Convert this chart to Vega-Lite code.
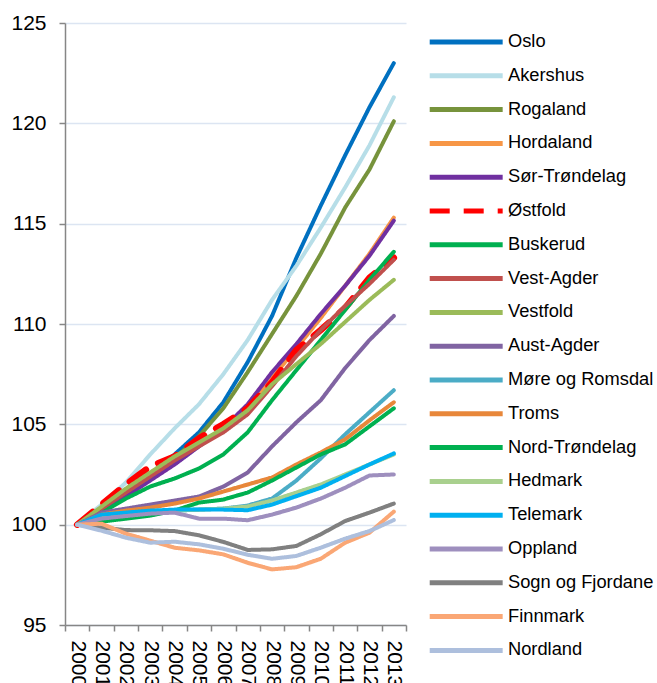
{
"$schema": "https://vega.github.io/schema/vega-lite/v6.json",
"width": 341, "height": 602,
"autosize": {"type": "none"},
"padding": {"left": 65, "top": 23, "right": 251, "bottom": 58},
"background": "white",
"config": {"view": {"stroke": null}, "font": "Liberation Sans"},
"datasets": {"d": [
{"region":"Oslo","year":2000,"value":100},{"region":"Oslo","year":2001,"value":100.6},{"region":"Oslo","year":2002,"value":101.5},{"region":"Oslo","year":2003,"value":102.5},{"region":"Oslo","year":2004,"value":103.5},{"region":"Oslo","year":2005,"value":104.6},{"region":"Oslo","year":2006,"value":106.1},{"region":"Oslo","year":2007,"value":108.1},{"region":"Oslo","year":2008,"value":110.4},{"region":"Oslo","year":2009,"value":113.3},{"region":"Oslo","year":2010,"value":115.9},{"region":"Oslo","year":2011,"value":118.4},{"region":"Oslo","year":2012,"value":120.8},{"region":"Oslo","year":2013,"value":123.0},
{"region":"Akershus","year":2000,"value":100},{"region":"Akershus","year":2001,"value":101.0},{"region":"Akershus","year":2002,"value":102.1},{"region":"Akershus","year":2003,"value":103.5},{"region":"Akershus","year":2004,"value":104.8},{"region":"Akershus","year":2005,"value":106.0},{"region":"Akershus","year":2006,"value":107.5},{"region":"Akershus","year":2007,"value":109.2},{"region":"Akershus","year":2008,"value":111.2},{"region":"Akershus","year":2009,"value":112.9},{"region":"Akershus","year":2010,"value":114.8},{"region":"Akershus","year":2011,"value":116.8},{"region":"Akershus","year":2012,"value":118.9},{"region":"Akershus","year":2013,"value":121.3},
{"region":"Rogaland","year":2000,"value":100},{"region":"Rogaland","year":2001,"value":100.8},{"region":"Rogaland","year":2002,"value":101.6},{"region":"Rogaland","year":2003,"value":102.5},{"region":"Rogaland","year":2004,"value":103.3},{"region":"Rogaland","year":2005,"value":104.4},{"region":"Rogaland","year":2006,"value":105.8},{"region":"Rogaland","year":2007,"value":107.6},{"region":"Rogaland","year":2008,"value":109.5},{"region":"Rogaland","year":2009,"value":111.4},{"region":"Rogaland","year":2010,"value":113.5},{"region":"Rogaland","year":2011,"value":115.8},{"region":"Rogaland","year":2012,"value":117.7},{"region":"Rogaland","year":2013,"value":120.1},
{"region":"Hordaland","year":2000,"value":100},{"region":"Hordaland","year":2001,"value":100.8},{"region":"Hordaland","year":2002,"value":101.6},{"region":"Hordaland","year":2003,"value":102.4},{"region":"Hordaland","year":2004,"value":103.2},{"region":"Hordaland","year":2005,"value":104.0},{"region":"Hordaland","year":2006,"value":104.8},{"region":"Hordaland","year":2007,"value":105.8},{"region":"Hordaland","year":2008,"value":107.3},{"region":"Hordaland","year":2009,"value":108.8},{"region":"Hordaland","year":2010,"value":110.3},{"region":"Hordaland","year":2011,"value":111.9},{"region":"Hordaland","year":2012,"value":113.5},{"region":"Hordaland","year":2013,"value":115.3},
{"region":"Sør-Trøndelag","year":2000,"value":100},{"region":"Sør-Trøndelag","year":2001,"value":100.7},{"region":"Sør-Trøndelag","year":2002,"value":101.4},{"region":"Sør-Trøndelag","year":2003,"value":102.2},{"region":"Sør-Trøndelag","year":2004,"value":103.0},{"region":"Sør-Trøndelag","year":2005,"value":103.9},{"region":"Sør-Trøndelag","year":2006,"value":104.8},{"region":"Sør-Trøndelag","year":2007,"value":106.0},{"region":"Sør-Trøndelag","year":2008,"value":107.6},{"region":"Sør-Trøndelag","year":2009,"value":109.0},{"region":"Sør-Trøndelag","year":2010,"value":110.5},{"region":"Sør-Trøndelag","year":2011,"value":111.9},{"region":"Sør-Trøndelag","year":2012,"value":113.4},{"region":"Sør-Trøndelag","year":2013,"value":115.15},
{"region":"Østfold","year":2000,"value":100},{"region":"Østfold","year":2001,"value":101.0},{"region":"Østfold","year":2002,"value":102.0},{"region":"Østfold","year":2003,"value":102.9},{"region":"Østfold","year":2004,"value":103.4},{"region":"Østfold","year":2005,"value":104.3},{"region":"Østfold","year":2006,"value":105.0},{"region":"Østfold","year":2007,"value":105.8},{"region":"Østfold","year":2008,"value":107.1},{"region":"Østfold","year":2009,"value":108.7},{"region":"Østfold","year":2010,"value":109.7},{"region":"Østfold","year":2011,"value":110.8},{"region":"Østfold","year":2012,"value":112.3},{"region":"Østfold","year":2013,"value":113.3},
{"region":"Buskerud","year":2000,"value":100},{"region":"Buskerud","year":2001,"value":100.6},{"region":"Buskerud","year":2002,"value":101.3},{"region":"Buskerud","year":2003,"value":101.9},{"region":"Buskerud","year":2004,"value":102.3},{"region":"Buskerud","year":2005,"value":102.8},{"region":"Buskerud","year":2006,"value":103.5},{"region":"Buskerud","year":2007,"value":104.6},{"region":"Buskerud","year":2008,"value":106.2},{"region":"Buskerud","year":2009,"value":107.7},{"region":"Buskerud","year":2010,"value":109.2},{"region":"Buskerud","year":2011,"value":110.7},{"region":"Buskerud","year":2012,"value":112.2},{"region":"Buskerud","year":2013,"value":113.6},
{"region":"Vest-Agder","year":2000,"value":100},{"region":"Vest-Agder","year":2001,"value":100.8},{"region":"Vest-Agder","year":2002,"value":101.6},{"region":"Vest-Agder","year":2003,"value":102.4},{"region":"Vest-Agder","year":2004,"value":103.2},{"region":"Vest-Agder","year":2005,"value":103.9},{"region":"Vest-Agder","year":2006,"value":104.6},{"region":"Vest-Agder","year":2007,"value":105.5},{"region":"Vest-Agder","year":2008,"value":106.9},{"region":"Vest-Agder","year":2009,"value":108.4},{"region":"Vest-Agder","year":2010,"value":109.7},{"region":"Vest-Agder","year":2011,"value":110.9},{"region":"Vest-Agder","year":2012,"value":112.0},{"region":"Vest-Agder","year":2013,"value":113.2},
{"region":"Vestfold","year":2000,"value":100},{"region":"Vestfold","year":2001,"value":100.9},{"region":"Vestfold","year":2002,"value":101.8},{"region":"Vestfold","year":2003,"value":102.6},{"region":"Vestfold","year":2004,"value":103.4},{"region":"Vestfold","year":2005,"value":104.1},{"region":"Vestfold","year":2006,"value":104.8},{"region":"Vestfold","year":2007,"value":105.7},{"region":"Vestfold","year":2008,"value":107.0},{"region":"Vestfold","year":2009,"value":108.0},{"region":"Vestfold","year":2010,"value":109.0},{"region":"Vestfold","year":2011,"value":110.1},{"region":"Vestfold","year":2012,"value":111.2},{"region":"Vestfold","year":2013,"value":112.2},
{"region":"Aust-Agder","year":2000,"value":100},{"region":"Aust-Agder","year":2001,"value":100.6},{"region":"Aust-Agder","year":2002,"value":100.8},{"region":"Aust-Agder","year":2003,"value":101.0},{"region":"Aust-Agder","year":2004,"value":101.2},{"region":"Aust-Agder","year":2005,"value":101.4},{"region":"Aust-Agder","year":2006,"value":101.9},{"region":"Aust-Agder","year":2007,"value":102.6},{"region":"Aust-Agder","year":2008,"value":103.9},{"region":"Aust-Agder","year":2009,"value":105.1},{"region":"Aust-Agder","year":2010,"value":106.2},{"region":"Aust-Agder","year":2011,"value":107.8},{"region":"Aust-Agder","year":2012,"value":109.2},{"region":"Aust-Agder","year":2013,"value":110.4},
{"region":"Møre og Romsdal","year":2000,"value":100},{"region":"Møre og Romsdal","year":2001,"value":100.45},{"region":"Møre og Romsdal","year":2002,"value":100.5},{"region":"Møre og Romsdal","year":2003,"value":100.6},{"region":"Møre og Romsdal","year":2004,"value":100.7},{"region":"Møre og Romsdal","year":2005,"value":100.75},{"region":"Møre og Romsdal","year":2006,"value":100.8},{"region":"Møre og Romsdal","year":2007,"value":100.95},{"region":"Møre og Romsdal","year":2008,"value":101.3},{"region":"Møre og Romsdal","year":2009,"value":102.2},{"region":"Møre og Romsdal","year":2010,"value":103.3},{"region":"Møre og Romsdal","year":2011,"value":104.5},{"region":"Møre og Romsdal","year":2012,"value":105.6},{"region":"Møre og Romsdal","year":2013,"value":106.7},
{"region":"Troms","year":2000,"value":100},{"region":"Troms","year":2001,"value":100.5},{"region":"Troms","year":2002,"value":100.7},{"region":"Troms","year":2003,"value":100.85},{"region":"Troms","year":2004,"value":101.05},{"region":"Troms","year":2005,"value":101.3},{"region":"Troms","year":2006,"value":101.65},{"region":"Troms","year":2007,"value":102.0},{"region":"Troms","year":2008,"value":102.35},{"region":"Troms","year":2009,"value":103.0},{"region":"Troms","year":2010,"value":103.6},{"region":"Troms","year":2011,"value":104.25},{"region":"Troms","year":2012,"value":105.2},{"region":"Troms","year":2013,"value":106.1},
{"region":"Nord-Trøndelag","year":2000,"value":100},{"region":"Nord-Trøndelag","year":2001,"value":100.15},{"region":"Nord-Trøndelag","year":2002,"value":100.3},{"region":"Nord-Trøndelag","year":2003,"value":100.45},{"region":"Nord-Trøndelag","year":2004,"value":100.7},{"region":"Nord-Trøndelag","year":2005,"value":101.1},{"region":"Nord-Trøndelag","year":2006,"value":101.25},{"region":"Nord-Trøndelag","year":2007,"value":101.6},{"region":"Nord-Trøndelag","year":2008,"value":102.2},{"region":"Nord-Trøndelag","year":2009,"value":102.85},{"region":"Nord-Trøndelag","year":2010,"value":103.5},{"region":"Nord-Trøndelag","year":2011,"value":104.0},{"region":"Nord-Trøndelag","year":2012,"value":104.9},{"region":"Nord-Trøndelag","year":2013,"value":105.8},
{"region":"Hedmark","year":2000,"value":100},{"region":"Hedmark","year":2001,"value":100.4},{"region":"Hedmark","year":2002,"value":100.5},{"region":"Hedmark","year":2003,"value":100.6},{"region":"Hedmark","year":2004,"value":100.7},{"region":"Hedmark","year":2005,"value":100.75},{"region":"Hedmark","year":2006,"value":100.8},{"region":"Hedmark","year":2007,"value":100.9},{"region":"Hedmark","year":2008,"value":101.2},{"region":"Hedmark","year":2009,"value":101.6},{"region":"Hedmark","year":2010,"value":102.0},{"region":"Hedmark","year":2011,"value":102.5},{"region":"Hedmark","year":2012,"value":103.0},{"region":"Hedmark","year":2013,"value":103.5},
{"region":"Telemark","year":2000,"value":100},{"region":"Telemark","year":2001,"value":100.5},{"region":"Telemark","year":2002,"value":100.6},{"region":"Telemark","year":2003,"value":100.7},{"region":"Telemark","year":2004,"value":100.75},{"region":"Telemark","year":2005,"value":100.75},{"region":"Telemark","year":2006,"value":100.75},{"region":"Telemark","year":2007,"value":100.72},{"region":"Telemark","year":2008,"value":101.0},{"region":"Telemark","year":2009,"value":101.42},{"region":"Telemark","year":2010,"value":101.84},{"region":"Telemark","year":2011,"value":102.42},{"region":"Telemark","year":2012,"value":103.0},{"region":"Telemark","year":2013,"value":103.55},
{"region":"Oppland","year":2000,"value":100},{"region":"Oppland","year":2001,"value":100.3},{"region":"Oppland","year":2002,"value":100.43},{"region":"Oppland","year":2003,"value":100.55},{"region":"Oppland","year":2004,"value":100.6},{"region":"Oppland","year":2005,"value":100.3},{"region":"Oppland","year":2006,"value":100.3},{"region":"Oppland","year":2007,"value":100.22},{"region":"Oppland","year":2008,"value":100.5},{"region":"Oppland","year":2009,"value":100.85},{"region":"Oppland","year":2010,"value":101.3},{"region":"Oppland","year":2011,"value":101.84},{"region":"Oppland","year":2012,"value":102.45},{"region":"Oppland","year":2013,"value":102.5},
{"region":"Sogn og Fjordane","year":2000,"value":100},{"region":"Sogn og Fjordane","year":2001,"value":99.85},{"region":"Sogn og Fjordane","year":2002,"value":99.73},{"region":"Sogn og Fjordane","year":2003,"value":99.72},{"region":"Sogn og Fjordane","year":2004,"value":99.68},{"region":"Sogn og Fjordane","year":2005,"value":99.47},{"region":"Sogn og Fjordane","year":2006,"value":99.14},{"region":"Sogn og Fjordane","year":2007,"value":98.74},{"region":"Sogn og Fjordane","year":2008,"value":98.77},{"region":"Sogn og Fjordane","year":2009,"value":98.94},{"region":"Sogn og Fjordane","year":2010,"value":99.52},{"region":"Sogn og Fjordane","year":2011,"value":100.18},{"region":"Sogn og Fjordane","year":2012,"value":100.6},{"region":"Sogn og Fjordane","year":2013,"value":101.05},
{"region":"Finnmark","year":2000,"value":100},{"region":"Finnmark","year":2001,"value":100.05},{"region":"Finnmark","year":2002,"value":99.55},{"region":"Finnmark","year":2003,"value":99.2},{"region":"Finnmark","year":2004,"value":98.85},{"region":"Finnmark","year":2005,"value":98.72},{"region":"Finnmark","year":2006,"value":98.52},{"region":"Finnmark","year":2007,"value":98.1},{"region":"Finnmark","year":2008,"value":97.77},{"region":"Finnmark","year":2009,"value":97.88},{"region":"Finnmark","year":2010,"value":98.3},{"region":"Finnmark","year":2011,"value":99.1},{"region":"Finnmark","year":2012,"value":99.6},{"region":"Finnmark","year":2013,"value":100.65},
{"region":"Nordland","year":2000,"value":100},{"region":"Nordland","year":2001,"value":99.7},{"region":"Nordland","year":2002,"value":99.35},{"region":"Nordland","year":2003,"value":99.1},{"region":"Nordland","year":2004,"value":99.15},{"region":"Nordland","year":2005,"value":99.02},{"region":"Nordland","year":2006,"value":98.8},{"region":"Nordland","year":2007,"value":98.5},{"region":"Nordland","year":2008,"value":98.3},{"region":"Nordland","year":2009,"value":98.44},{"region":"Nordland","year":2010,"value":98.85},{"region":"Nordland","year":2011,"value":99.3},{"region":"Nordland","year":2012,"value":99.68},{"region":"Nordland","year":2013,"value":100.23}
]},
"data": {"name": "d"},
"mark": {"type": "line", "strokeCap": "round", "strokeJoin": "round"},
"encoding": {
  "x": {"field": "year", "type": "ordinal", "bandPosition": 0.5,
        "scale": {"type": "band", "paddingInner": 0, "paddingOuter": 0},
        "axis": {"title": null, "labelAngle": 90, "labelAlign": "left", "labelBaseline": "middle", "labelFontSize": 21, "labelColor": "black", "labelFont": "Liberation Sans", "labelPadding": 9, "labelOverlap": false, "tickBand": "extent", "tickSize": 6, "tickColor": "#868686", "tickWidth": 1.5, "domainColor": "#868686", "domainWidth": 1.5, "grid": false}},
  "y": {"field": "value", "type": "quantitative",
        "scale": {"domain": [95, 125], "nice": false, "zero": false},
        "axis": {"title": null, "values": [95, 100, 105, 110, 115, 120, 125], "grid": true, "gridColor": "#DCE5F2", "gridWidth": 1.5, "domainColor": "#868686", "domainWidth": 1.5, "tickColor": "#868686", "tickSize": 6, "tickWidth": 1.5, "labelFontSize": 21, "labelColor": "black", "labelFont": "Liberation Sans", "labelPadding": 13}},
  "color": {"field": "region", "type": "nominal",
        "scale": {"domain": ["Oslo","Akershus","Rogaland","Hordaland","Sør-Trøndelag","Østfold","Buskerud","Vest-Agder","Vestfold","Aust-Agder","Møre og Romsdal","Troms","Nord-Trøndelag","Hedmark","Telemark","Oppland","Sogn og Fjordane","Finnmark","Nordland"],
                  "range": ["#0070C0","#B7DEE8","#77933C","#F79646","#7030A0","#FF0000","#00B050","#C0504D","#9BBB59","#8064A2","#4BACC6","#E8873A","#00B050","#A9D08E","#00B0F0","#9E8FBE","#808080","#FAA775","#ADBFDD"]},
        "legend": {"title": null, "orient": "none", "legendX": 362, "legendY": 9, "padding": 0, "symbolType": "M-1,0H9", "symbolSize": 213, "symbolStrokeWidth": 5, "symbolOffset": 0, "labelOffset": 61, "labelFontSize": 18.3, "labelFont": "Liberation Sans", "labelColor": "black", "labelLimit": 300, "rowPadding": 13.8, "direction": "vertical"}},
  "strokeDash": {"field": "region", "type": "nominal",
        "scale": {"domain": ["Oslo","Akershus","Rogaland","Hordaland","Sør-Trøndelag","Østfold","Buskerud","Vest-Agder","Vestfold","Aust-Agder","Møre og Romsdal","Troms","Nord-Trøndelag","Hedmark","Telemark","Oppland","Sogn og Fjordane","Finnmark","Nordland"],
                  "range": [[1,0],[1,0],[1,0],[1,0],[1,0],[20,14],[1,0],[1,0],[1,0],[1,0],[1,0],[1,0],[1,0],[1,0],[1,0],[1,0],[1,0],[1,0],[1,0]]},
        "legend": {"title": null, "orient": "none", "legendX": 362, "legendY": 9, "padding": 0, "symbolType": "M-1,0H9", "symbolSize": 213, "symbolStrokeWidth": 5, "symbolOffset": 0, "labelOffset": 61, "labelFontSize": 18.3, "labelFont": "Liberation Sans", "labelColor": "black", "labelLimit": 300, "rowPadding": 13.8, "direction": "vertical"}},
  "strokeWidth": {"condition": {"test": "datum.region === 'Østfold'", "value": 6.5}, "value": 4}
}
}
